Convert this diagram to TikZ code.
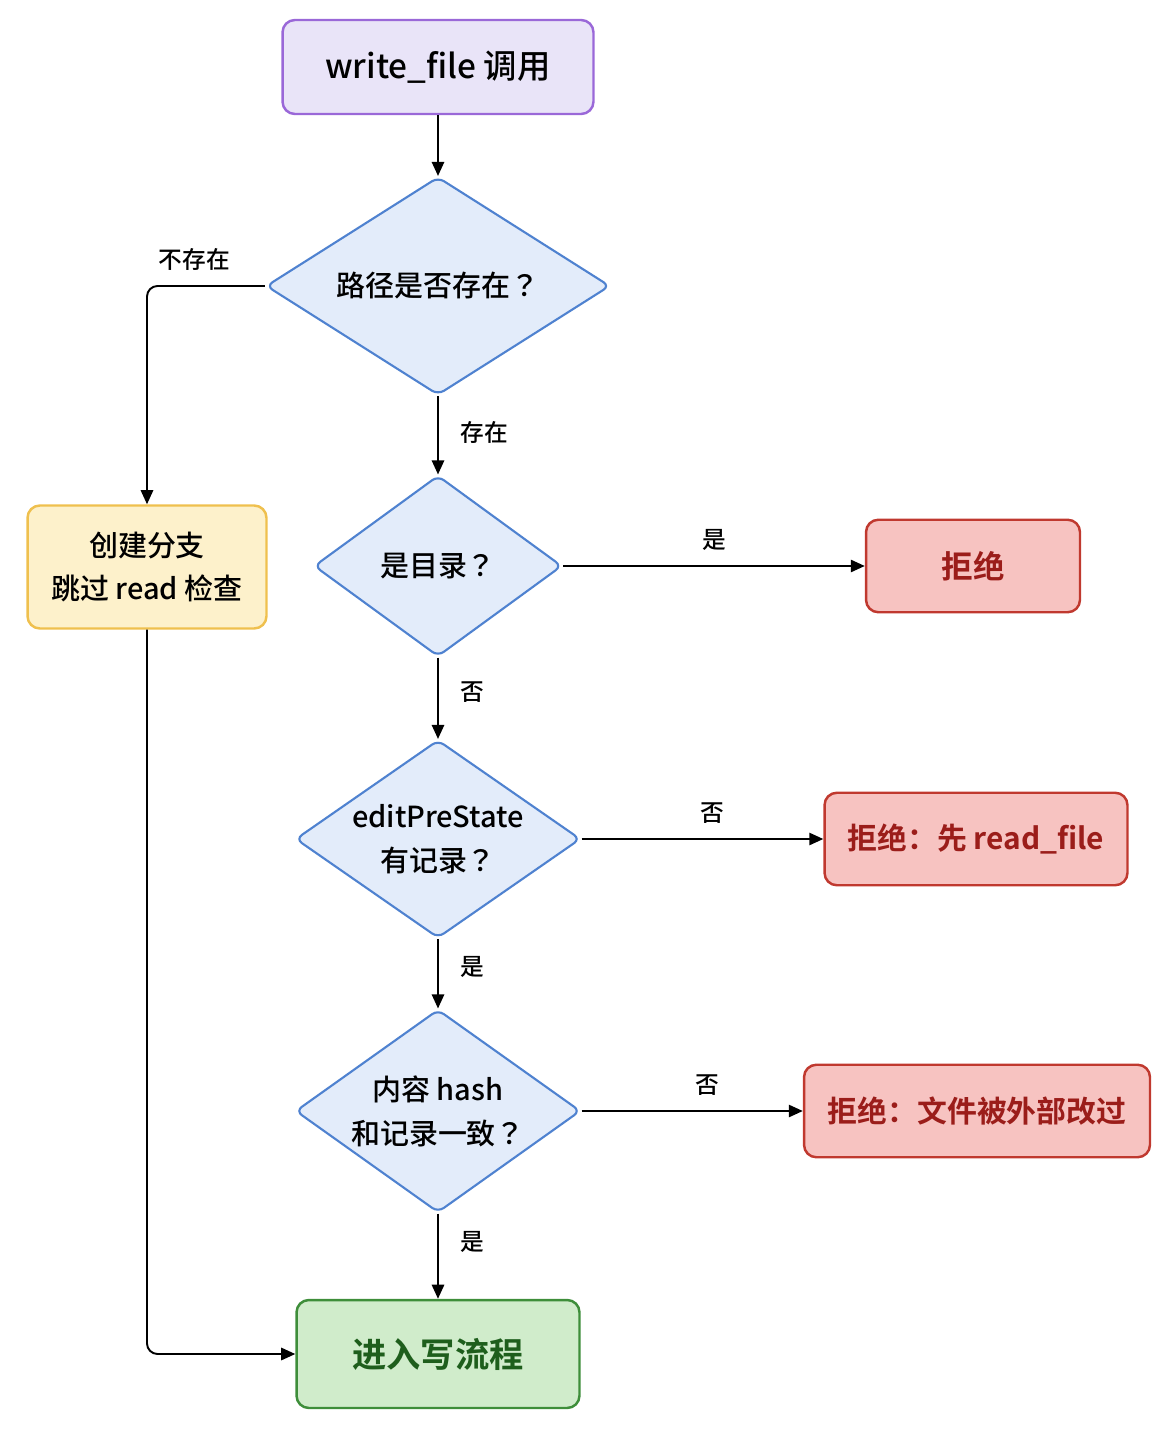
\documentclass[tikz,border=0pt]{standalone}
\usepackage{fontspec}
\setmainfont{Noto Sans CJK SC}[UprightFont={* Medium}, BoldFont={* Bold}]
\newfontfamily\jpfont{Noto Sans CJK JP}[UprightFont={* Medium}, BoldFont={* Bold}]
\newcommand{\qmark}{{\jpfont ？}}
\usepackage{tikz}
\usetikzlibrary{
    arrows.meta,
    shapes.geometric
}

\definecolor{startfill}{HTML}{E9E4F8}
\definecolor{startline}{HTML}{9A68D8}
\definecolor{askfill}{HTML}{E3ECFA}
\definecolor{askline}{HTML}{4F82D0}
\definecolor{skipfill}{HTML}{FDF1CB}
\definecolor{skipline}{HTML}{EFC04E}
\definecolor{denyfill}{HTML}{F7C3C1}
\definecolor{denyline}{HTML}{C0392F}
\definecolor{denytext}{HTML}{9B1D1A}
\definecolor{okfill}{HTML}{D0ECCB}
\definecolor{okline}{HTML}{3E8E3A}
\definecolor{oktext}{HTML}{1E5E1C}

\begin{document}
\begin{tikzpicture}[
    x=0.02cm, y=-0.02cm,
    box/.style={rectangle, rounded corners=7pt, line width=1.4pt, inner sep=0pt,
        align=center, font=\fontsize{16.5}{25}\selectfont},
    ask/.style={diamond, rounded corners=4pt, draw=askline, fill=askfill,
        line width=1.2pt, inner sep=0pt, align=center,
        font=\fontsize{16.5}{25}\selectfont},
    deny/.style={box, draw=denyline, fill=denyfill, text=denytext,
        minimum height=1.85cm, font=\fontsize{17}{25}\selectfont\bfseries},
    lbl/.style={font=\fontsize{13.5}{16}\selectfont, inner sep=1pt},
    flow/.style={line width=1.1pt, -{Triangle[length=8pt, width=7pt]}}
]

\useasboundingbox (0,0) rectangle (1160,1452);

% Nodes
\node[box, draw=startline, fill=startfill, minimum width=6.22cm, minimum height=1.88cm,
    font=\fontsize{19}{25}\selectfont] (call) at (438,67) {write\_file 调用};
\node[ask, aspect=1.58, minimum width=6.88cm, minimum height=4.36cm] (exists) at (438,286) {路径是否存在\qmark};
\node[ask, aspect=1.37, minimum width=4.96cm, minimum height=3.62cm] (isdir) at (438,566) {是目录\qmark};
\node[ask, aspect=1.44, minimum width=5.7cm, minimum height=3.96cm] (record) at (438,839) {editPreState\\有记录\qmark};
\node[ask, aspect=1.40, minimum width=5.7cm, minimum height=4.06cm] (hash) at (438,1111) {内容 hash\\和记录一致\qmark};

\node[box, draw=skipline, fill=skipfill, minimum width=4.78cm, minimum height=2.46cm]
    (create) at (147,567) {创建分支\\跳过 read 检查};

\node[deny, minimum width=4.28cm, font=\fontsize{18}{25}\selectfont\bfseries] (deny1) at (973,566) {拒绝};
\node[deny, minimum width=6.06cm] (deny2) at (976,839) {拒绝：先 read\_file};
\node[deny, minimum width=6.92cm] (deny3) at (977,1111) {拒绝：文件被外部改过};

\node[box, draw=okline, fill=okfill, text=oktext, minimum width=5.66cm, minimum height=2.16cm,
    font=\fontsize{19.5}{25}\selectfont\bfseries] (write) at (438,1354) {进入写流程};

% Main path
\draw[flow] (call) -- (exists);
\draw[flow] (exists) -- node[lbl, pos=0.47, right=0.4cm] {存在} (isdir);
\draw[flow] (isdir) -- node[lbl, pos=0.42, right=0.4cm] {否} (record);
\draw[flow] (record) -- node[lbl, pos=0.4, right=0.4cm] {是} (hash);
\draw[flow] (hash) -- node[lbl, pos=0.33, right=0.4cm] {是} (write);

% Rejections
\draw[flow] (isdir) -- node[lbl, above=0.25cm] {是} (deny1);
\draw[flow] (record) -- node[lbl, pos=0.54, above=0.25cm] {否} (deny2);
\draw[flow] (hash) -- node[lbl, pos=0.57, above=0.25cm] {否} (deny3);

% Create branch
\draw[flow, rounded corners=6pt] (exists.west) -| node[lbl, pos=0.3, above=0.25cm] {不存在} (create.north);
\draw[flow, rounded corners=6pt] (create.south) |- (write.west);

\end{tikzpicture}
\end{document}
